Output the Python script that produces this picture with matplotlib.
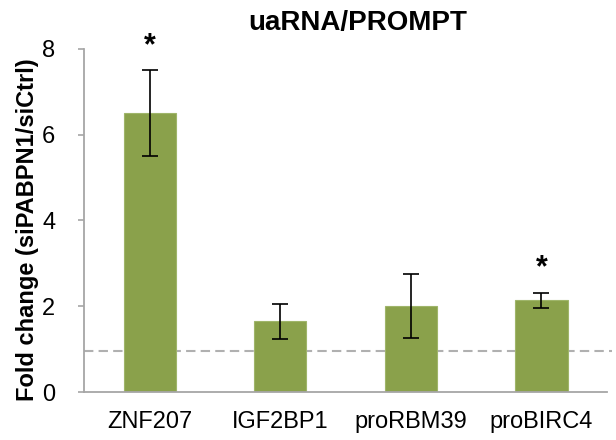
import matplotlib.pyplot as plt
import numpy as np

plt.rcParams['font.family'] = ['Liberation Sans', 'DejaVu Sans']

genes = ["ZNF207", "IGF2BP1", "proRBM39", "proBIRC4"]
fold = [6.50, 1.65, 2.00, 2.14]
err = [1.0, 0.41, 0.75, 0.17]
signif = [True, False, False, True]
baseline = 0.95

green = "#8aa14b"
grey = "#a6a6a6"

fig = plt.figure(figsize=(6.16, 4.4), dpi=100)
ax = fig.add_axes([0.137, 0.109, 0.848, 0.780])

x = np.arange(len(genes))
ax.bar(x, fold, width=0.40, color=green, edgecolor="#9fb56a", linewidth=0.8, zorder=2)
ax.errorbar(x, fold, yerr=err, fmt="none", ecolor="black", elinewidth=1.2,
            capsize=6, capthick=1.2, zorder=3)
ax.axhline(baseline, xmax=1.01, color="#b0b0b0", linestyle=(0, (4.5, 2.5)),
           linewidth=1.5, zorder=1, clip_on=False)

# significance stars above the error bars
for xi, v, e, s in zip(x, fold, err, signif):
    if s:
        ax.text(xi, v + e + 0.38, "*", ha="center", va="baseline",
                fontsize=22, fontweight="bold", clip_on=False)

ax.set_xlim(-0.5, len(genes) - 0.5)
ax.set_ylim(0, 8)
ax.set_yticks([0, 2, 4, 6, 8])
ax.set_xticks(x)
ax.set_xticklabels(genes, fontsize=17)
ax.tick_params(axis="y", labelsize=17, length=4, color=grey, width=1.2, pad=17)
ax.tick_params(axis="x", length=0, pad=14)
for side in ["top", "right"]:
    ax.spines[side].set_visible(False)
for side in ["left", "bottom"]:
    ax.spines[side].set_color(grey)
    ax.spines[side].set_linewidth(1.3)

fig.text(0.045, 0.477, "Fold change (siPABPN1/siCtrl)", rotation=90,
         ha="center", va="center", fontsize=17, fontweight="bold")
fig.text(0.581, 0.948, "uaRNA/PROMPT", ha="center", va="center",
         fontsize=20, fontweight="bold")

fig.savefig("out.png", dpi=100)
